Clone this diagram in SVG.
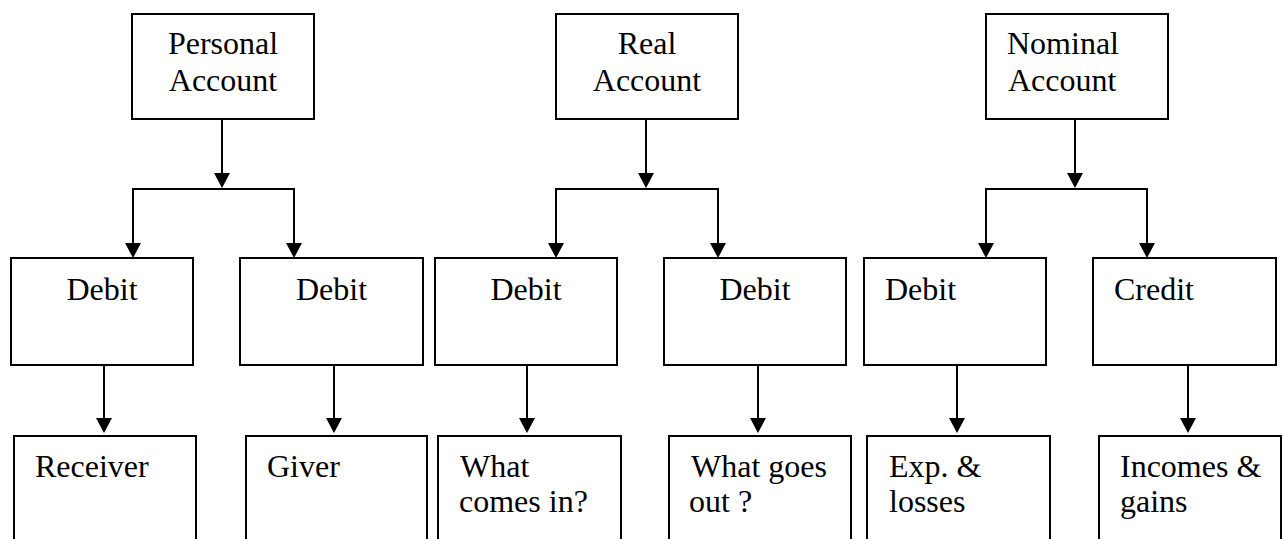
<svg xmlns="http://www.w3.org/2000/svg" width="1283" height="539" viewBox="0 0 1283 539">
<style>
.box{fill:#fff;stroke:#000;stroke-width:2}
.t{font-family:"Liberation Serif","Times New Roman",serif;font-size:32px;fill:#000}
.c{text-anchor:middle}
.ln{fill:none;stroke:#000;stroke-width:2;marker-end:url(#ah)}
</style>
<defs>
<marker id="ah" viewBox="0 0 15 16" refX="11" refY="8" markerWidth="15" markerHeight="16" markerUnits="userSpaceOnUse" orient="auto">
<path d="M0,0 L15,8 L0,16 Z" fill="#000"/>
</marker>
</defs>
<g id="connectors">
<path class="ln" d="M222,119 V184"/>
<path class="ln" d="M222,189 H133 V254"/>
<path class="ln" d="M222,189 H294 V254"/>
<path class="ln" d="M104,365 V429"/>
<path class="ln" d="M334,365 V429"/>
<path class="ln" d="M646,119 V184"/>
<path class="ln" d="M646,189 H556 V254"/>
<path class="ln" d="M646,189 H718 V254"/>
<path class="ln" d="M527,365 V429"/>
<path class="ln" d="M758,365 V429"/>
<path class="ln" d="M1075,119 V184"/>
<path class="ln" d="M1075,189 H986 V254"/>
<path class="ln" d="M1075,189 H1147 V254"/>
<path class="ln" d="M957,365 V429"/>
<path class="ln" d="M1188,365 V429"/>
</g>
<g id="personal"><rect class="box" x="132" y="14" width="182" height="105"/><text class="t c" x="223" y="54">Personal</text><text class="t c" x="223" y="91">Account</text></g>
<g id="real"><rect class="box" x="556" y="14" width="182" height="105"/><text class="t c" x="647" y="54">Real</text><text class="t c" x="647" y="91">Account</text></g>
<g id="nominal"><rect class="box" x="986" y="14" width="182" height="105"/><text class="t" x="1007" y="54">Nominal</text><text class="t" x="1008" y="91">Account</text></g>
<g id="p-debit1"><rect class="box" x="11" y="258" width="182" height="107"/><text class="t c" x="102" y="300">Debit</text></g>
<g id="p-debit2"><rect class="box" x="240" y="258" width="183" height="107"/><text class="t c" x="331.5" y="300">Debit</text></g>
<g id="r-debit1"><rect class="box" x="435" y="258" width="182" height="107"/><text class="t c" x="526" y="300">Debit</text></g>
<g id="r-debit2"><rect class="box" x="664" y="258" width="182" height="107"/><text class="t c" x="755" y="300">Debit</text></g>
<g id="n-debit"><rect class="box" x="864" y="258" width="182" height="107"/><text class="t" x="885" y="300">Debit</text></g>
<g id="n-credit"><rect class="box" x="1093" y="258" width="183" height="107"/><text class="t" x="1114" y="300">Credit</text></g>
<g id="receiver"><rect class="box" x="14" y="436" width="182" height="110"/><text class="t" x="35" y="477">Receiver</text></g>
<g id="giver"><rect class="box" x="246" y="436" width="181" height="110"/><text class="t" x="267" y="477">Giver</text></g>
<g id="comes-in"><rect class="box" x="438" y="436" width="183" height="110"/><text class="t" x="460" y="477">What</text><text class="t" x="459" y="512">comes in?</text></g>
<g id="goes-out"><rect class="box" x="669" y="436" width="182" height="110"/><text class="t" x="691" y="477">What goes</text><text class="t" x="689" y="512">out ?</text></g>
<g id="exp-losses"><rect class="box" x="867" y="436" width="183" height="110"/><text class="t" x="889" y="477">Exp. &amp;</text><text class="t" x="889" y="512">losses</text></g>
<g id="incomes-gains"><rect class="box" x="1099" y="436" width="182" height="110"/><text class="t" x="1120" y="477">Incomes &amp;</text><text class="t" x="1120" y="512">gains</text></g>
</svg>
